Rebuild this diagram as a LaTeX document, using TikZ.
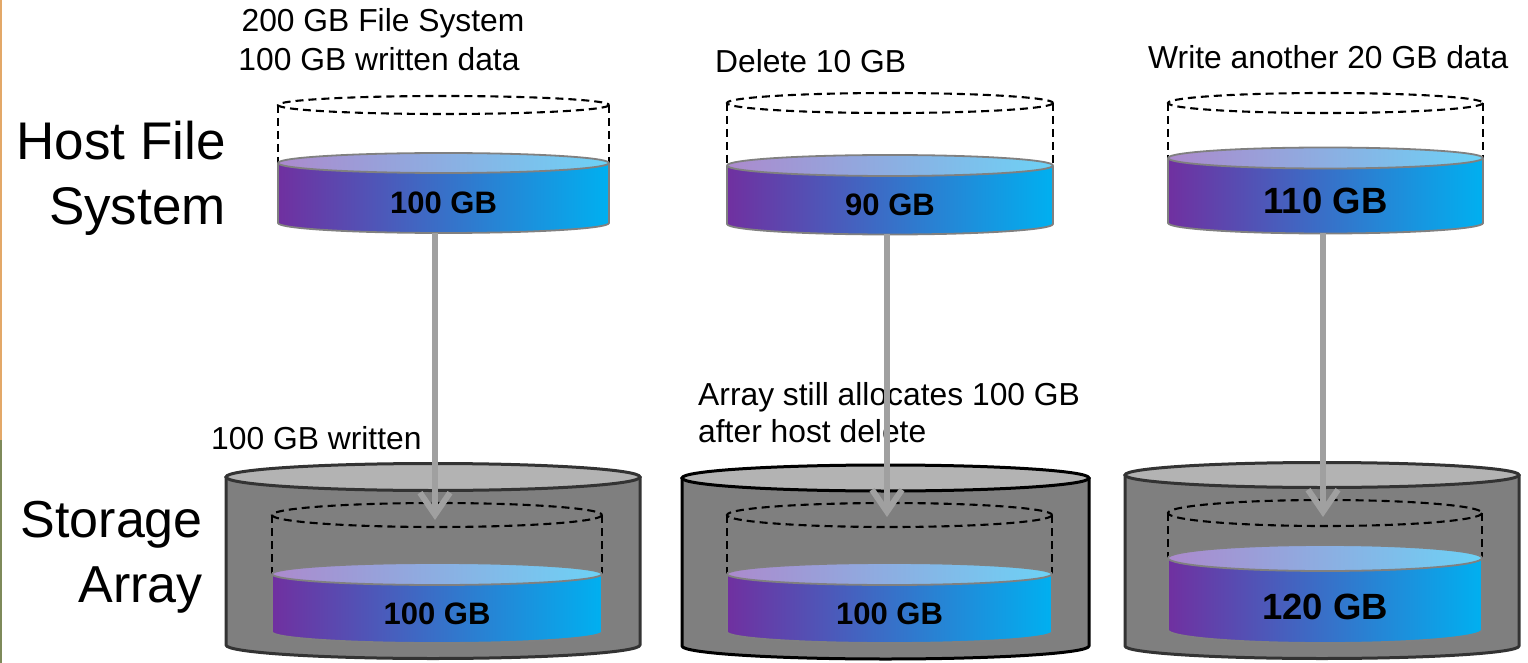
\documentclass[tikz,border=0pt]{standalone}
\usepackage{fontspec}
\setmainfont{Liberation Sans}
\usetikzlibrary{arrows.meta}

\definecolor{dpurple}{HTML}{7030A0}
\definecolor{dmid}{HTML}{5A72C0}
\definecolor{dcyan}{HTML}{00B0F0}
\definecolor{tpurple}{HTML}{AC8ACD}
\definecolor{tcyan}{HTML}{6CD2F6}
\definecolor{rimgray}{HTML}{808080}
\definecolor{drumgray}{HTML}{7F7F7F}
\definecolor{lidgray}{HTML}{B3B3B3}
\definecolor{drumedge}{HTML}{333333}
\definecolor{flowgray}{HTML}{A0A0A0}
\definecolor{edgeorange}{HTML}{E3A868}
\definecolor{edgeolive}{HTML}{7E8A5A}

\tikzset{
  diskrim/.style={draw=rimgray, line width=1.8pt, line join=round},
  ghost/.style={draw=black, line width=2.1pt, dash pattern=on 8pt off 5pt},
  lbl/.style={font=\fontsize{31.8}{38}\selectfont, inner sep=0pt},
  rowtitle/.style={font=\fontsize{53}{64}\selectfont, inner sep=0pt},
  flow/.style={draw=flowgray, line width=6pt,
    -{Straight Barb[length=22pt,width=30pt]}},
}

% data disk: name, centre x, x radius, lid y, floor y, y radius, label, font size
\newcommand{\datadisk}[8]{%
  \shade[left color=dpurple, middle color=dmid, right color=dcyan]
    ({#2-#3},#4) -- ({#2-#3},#5)
    arc[start angle=180, end angle=0, x radius=#3, y radius=#6]
    -- ({#2+#3},#4) -- cycle;
  \draw[diskrim] ({#2-#3},#4) -- ({#2-#3},#5)
    arc[start angle=180, end angle=0, x radius=#3, y radius=#6]
    -- ({#2+#3},#4);
  \shadedraw[left color=tpurple, right color=tcyan, diskrim]
    (#2,#4) ellipse[x radius=#3, y radius=#6];
  \node[font=\bfseries\fontsize{#8}{#8}\selectfont, inner sep=0pt]
    (#1) at (#2,{(#4+#5)/2+#6}) {#7};
}

% dashed outline of the full capacity: centre x, x radius, top y, lower y, y radius
\newcommand{\ghostdisk}[5]{%
  \draw[ghost] (#1,#3) ellipse[x radius=#2, y radius=#5];
  \draw[ghost] ({#1-#2},#3) -- ({#1-#2},#4);
  \draw[ghost] ({#1+#2},#3) -- ({#1+#2},#4);
}

% storage array drum: centre x, x radius, lid y, floor y, y radius, edge colour
\newcommand{\arraydrum}[6]{%
  \filldraw[fill=drumgray, draw=#6, line width=3pt, line join=round]
    ({#1-#2},#3) -- ({#1-#2},#4)
    arc[start angle=180, end angle=0, x radius=#2, y radius=#5]
    -- ({#1+#2},#3) -- cycle;
  \filldraw[fill=lidgray, draw=#6, line width=3pt]
    (#1,#3) ellipse[x radius=#2, y radius=#5];
}

\begin{document}
\begin{tikzpicture}[x=1pt, y=-1pt]
  \useasboundingbox (0,0) rectangle (1528,663);

  % slide edge
  \draw[edgeorange, line width=2pt] (1,0) -- (1,440);
  \draw[edgeolive, line width=2pt] (1,440) -- (1,663);

  % row titles
  \node[rowtitle, anchor=base east] (hostA) at (226,160) {Host File};
  \node[rowtitle, anchor=base east] (hostB) at (226,225) {System};
  \node[rowtitle, anchor=base east, font=\fontsize{52}{62}\selectfont] (arrA) at (203,537) {Storage};
  \node[rowtitle, anchor=base east, font=\fontsize{52}{62}\selectfont] (arrB) at (203,602) {Array};

  % storage arrays
  \arraydrum{433}{207}{477}{645}{13.5}{drumedge}
  \arraydrum{885.5}{203.5}{478}{646}{13}{black}
  \arraydrum{1322}{197}{475}{646}{12.5}{drumedge}

  \ghostdisk{437}{165}{515}{574}{12}
  \ghostdisk{889.5}{162.5}{515}{574}{12}
  \ghostdisk{1325}{157}{513}{558}{13}

  \datadisk{s1}{437}{165}{574}{632}{11}{100 GB}{31}
  \datadisk{s2}{889.5}{162.5}{574}{632}{11}{100 GB}{31}
  \datadisk{s3}{1325}{157}{558}{630}{13}{120 GB}{36.5}

  % host file systems
  \ghostdisk{443.5}{165.5}{105}{163}{9}
  \ghostdisk{890}{163}{103}{165}{10}
  \ghostdisk{1325.5}{157.5}{103}{158}{10}

  \datadisk{h1}{443.5}{165.5}{163}{223}{10}{100 GB}{31}
  \datadisk{h2}{890}{163}{165.5}{224}{10.5}{90 GB}{31}
  \datadisk{h3}{1325.5}{157.5}{158}{223}{10.5}{110 GB}{36.5}

  % notes
  \node[lbl, anchor=base] (n1a) at (383,32) {200 GB File System};
  \node[lbl, anchor=base] (n1b) at (379,71) {100 GB written data};
  \node[lbl, anchor=base west] (n2) at (715,73) {Delete 10 GB};
  \node[lbl, anchor=base west] (n3) at (1148,69) {Write another 20 GB data};
  \node[lbl, anchor=base west] (n4) at (211,449) {100 GB written};
  \node[lbl, anchor=base west] (n5a) at (698,405) {Array still allocates 100 GB};
  \node[lbl, anchor=base west] (n5b) at (698,442) {after host delete};

  % writes flowing from host to array
  \coordinate (f1-out) at (435,233);
  \coordinate (f1-in)  at (435,520);
  \coordinate (f2-out) at (887,234);
  \coordinate (f2-in)  at (887,517);
  \coordinate (f3-out) at (1323,233);
  \coordinate (f3-in)  at (1323,517);
  \draw[flow] (f1-out) -- (f1-in);
  \draw[flow] (f2-out) -- (f2-in);
  \draw[flow] (f3-out) -- (f3-in);
\end{tikzpicture}
\end{document}
